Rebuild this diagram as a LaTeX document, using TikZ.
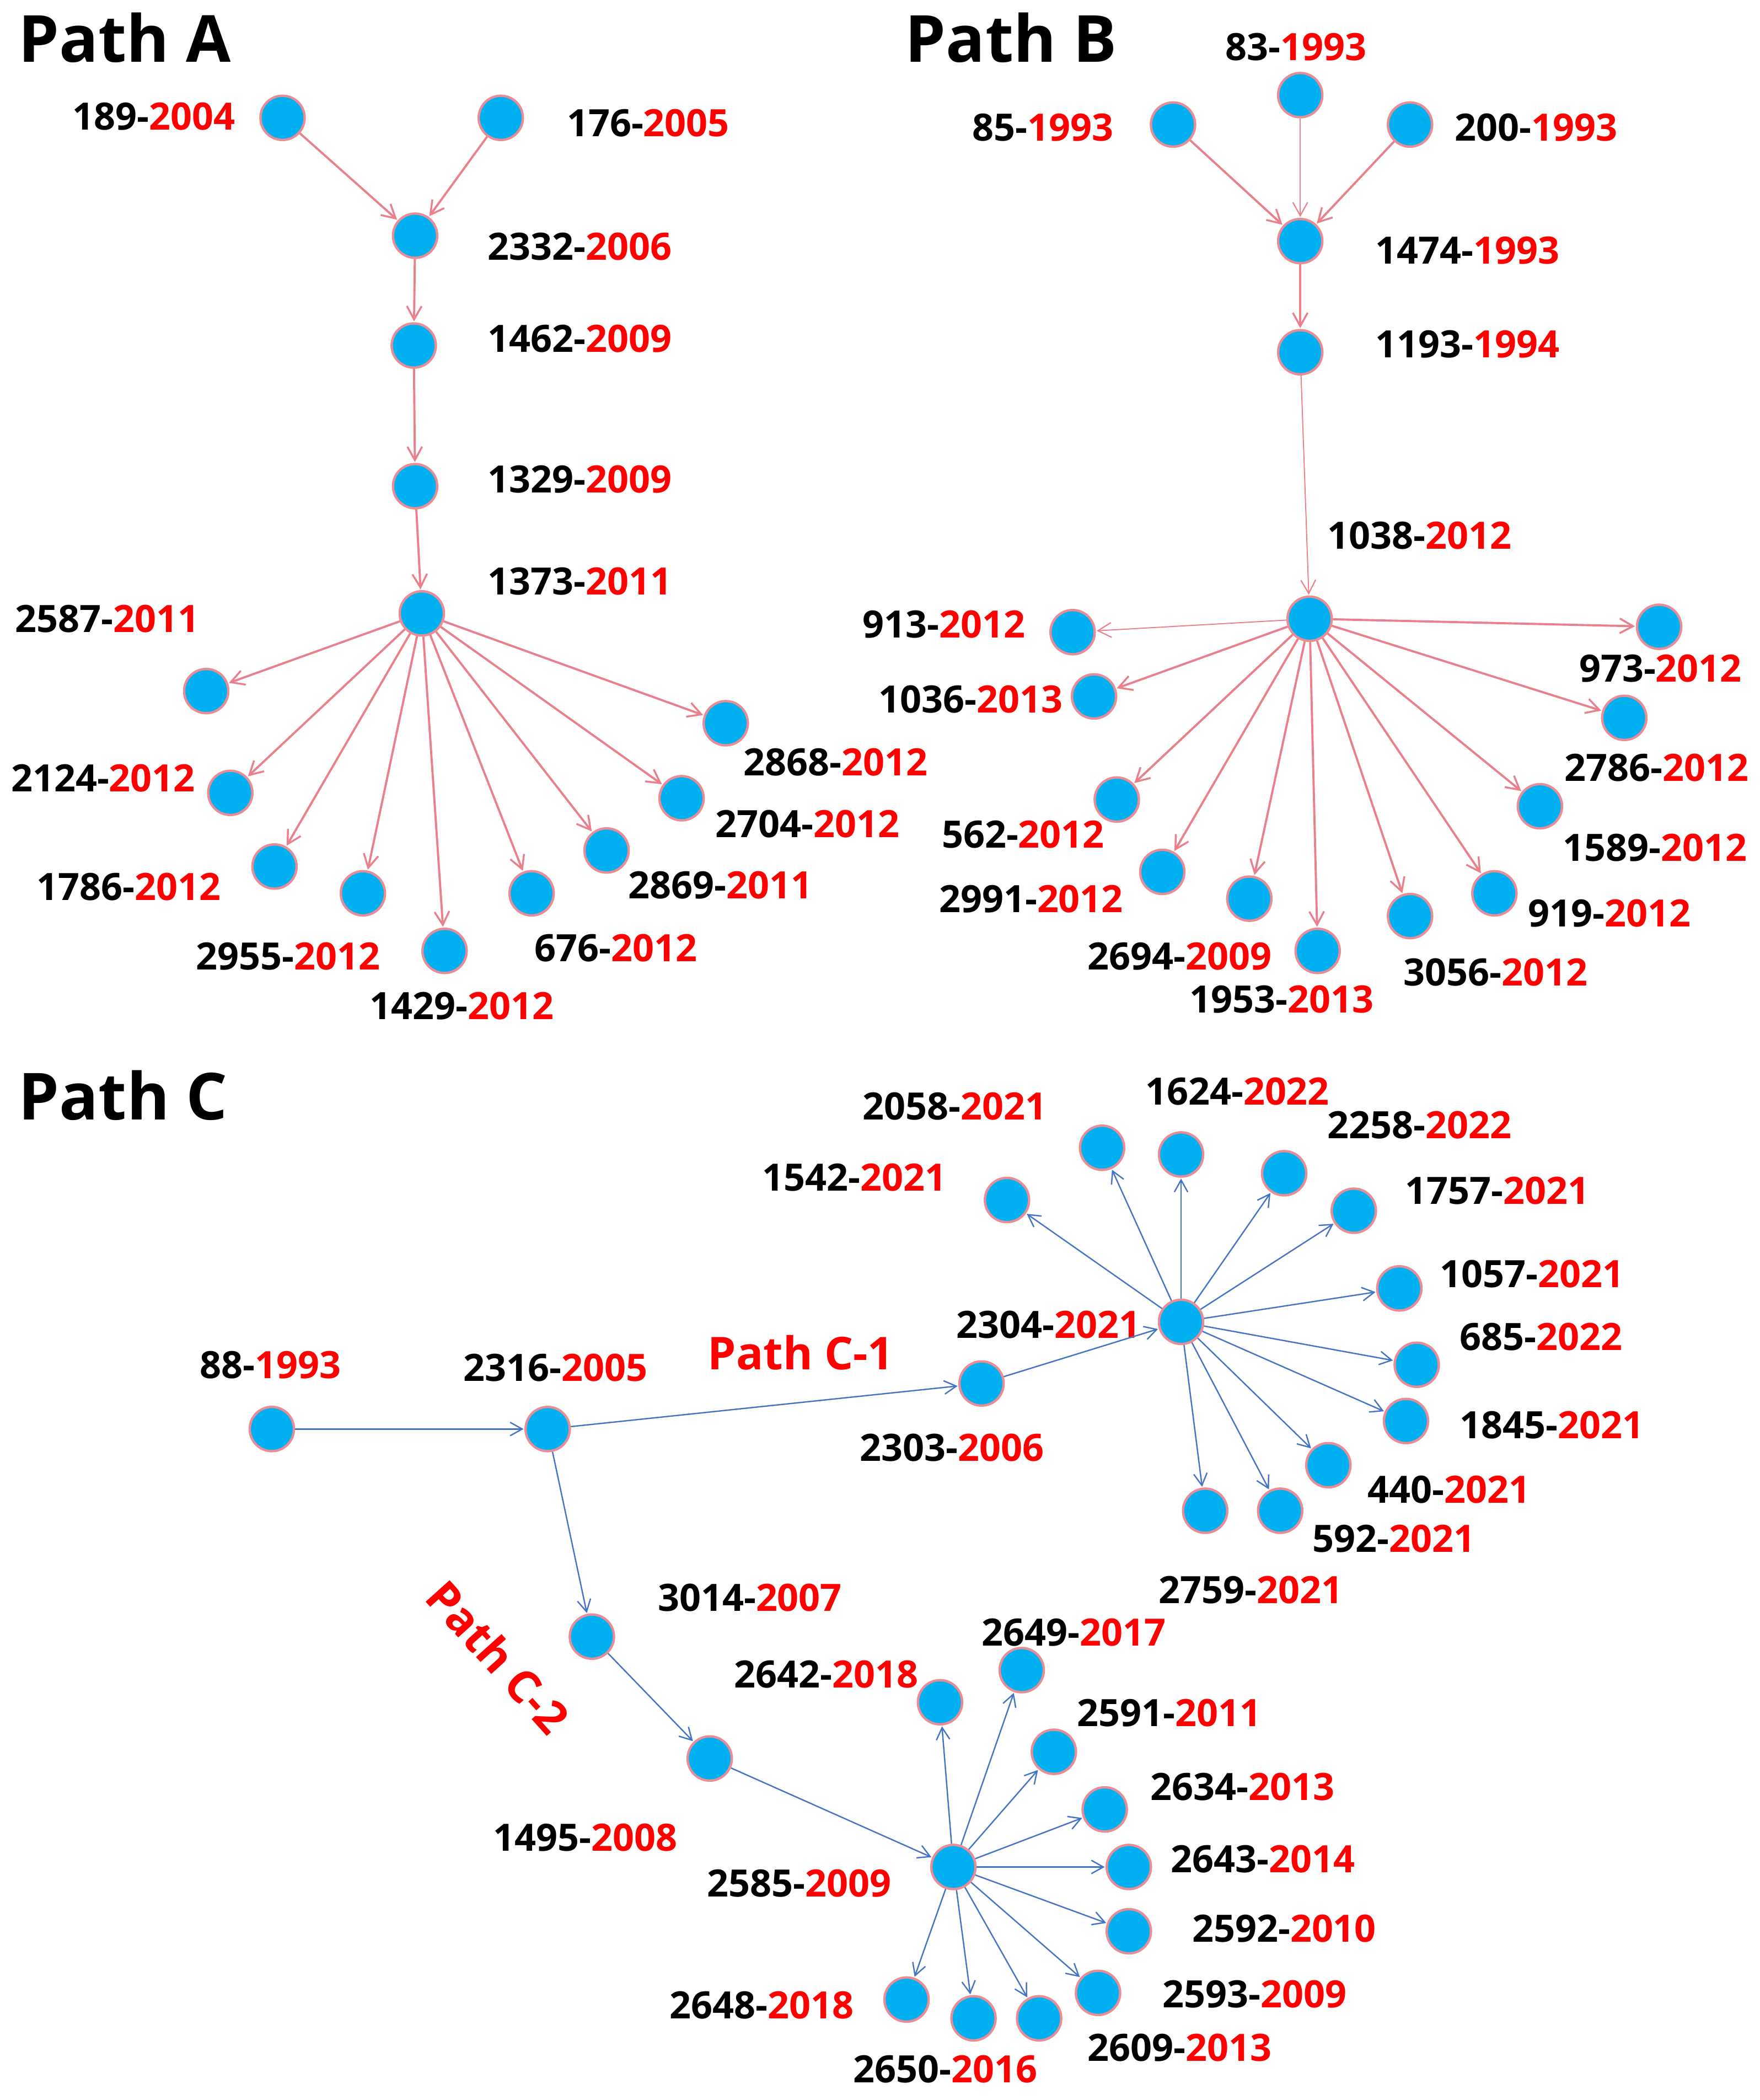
\documentclass[tikz,border=0pt]{standalone}
\usepackage{fontspec}
\setmainfont{Open Sans}
\usetikzlibrary{arrows.meta}
\definecolor{nodefill}{RGB}{0,176,240}
\definecolor{nodeedge}{RGB}{232,140,150}
\definecolor{pinkedge}{RGB}{234,128,140}
\definecolor{blueedge}{RGB}{68,114,196}
\definecolor{yearred}{RGB}{255,0,0}
\tikzset{
  pt/.style={circle,fill=nodefill,draw=nodeedge,line width=0.9mm,minimum size=16.5mm,inner sep=0pt},
  lbl/.style={font=\fontsize{40}{44}\selectfont\bfseries,text=black,inner sep=0pt},
  ttl/.style={font=\fontsize{69}{72}\selectfont\bfseries,text=black,inner sep=0pt},
  sub/.style={font=\fontsize{48}{52}\selectfont\bfseries,text=yearred,inner sep=0pt},
  pe/.style={draw=pinkedge,line width=0.8mm,-{Straight Barb[length=5mm,width=5.5mm,line width=0.7mm]},shorten >=0.3mm},
  pethin/.style={draw=pinkedge,line width=0.4mm,-{Straight Barb[length=5mm,width=5.5mm,line width=0.45mm]},shorten >=0.3mm},
  be/.style={draw=blueedge,line width=0.5mm,-{Straight Barb[length=4.5mm,width=5mm,line width=0.5mm]},shorten >=0.3mm}
}
\newcommand{\lab}[4]{\node[lbl] (#1) at (#2) {#3-\textcolor{yearred}{#4}};}
\begin{document}
\begin{tikzpicture}[x=0.5mm,y=-0.5mm]
\useasboundingbox[fill=white] (0,0) rectangle (1314,1568);
% ---------------- Path A ----------------
\node[ttl] (tA) at (93,28) {Path A};
\node[pt] (a189) at (211,88) {};
\node[pt] (a176) at (374,88) {};
\node[pt] (a2332) at (310,176) {};
\node[pt] (a1462) at (309,258) {};
\node[pt] (a1329) at (310,363) {};
\node[pt] (a1373) at (315,458) {};
\node[pt] (a2587) at (154,516) {};
\node[pt] (a2124) at (172,592) {};
\node[pt] (a1786) at (205,647) {};
\node[pt] (a2955) at (271,667) {};
\node[pt] (a1429) at (332,710) {};
\node[pt] (a676) at (397,667) {};
\node[pt] (a2869) at (453,635) {};
\node[pt] (a2704) at (509,596) {};
\node[pt] (a2868) at (542,540) {};
\lab{la189}{115,87}{189}{2004}
\lab{la176}{484,92}{176}{2005}
\lab{la2332}{433,184}{2332}{2006}
\lab{la1462}{433,253}{1462}{2009}
\lab{la1329}{433,358}{1329}{2009}
\lab{la1373}{433,434}{1373}{2011}
\lab{la2587}{80,462}{2587}{2011}
\lab{la2124}{77,581}{2124}{2012}
\lab{la1786}{96,662}{1786}{2012}
\lab{la2955}{215,714}{2955}{2012}
\lab{la1429}{345,751}{1429}{2012}
\lab{la676}{460,708}{676}{2012}
\lab{la2869}{538,661}{2869}{2011}
\lab{la2704}{603,615}{2704}{2012}
\lab{la2868}{624,569}{2868}{2012}
\draw[pe] (a189) -- (a2332);
\draw[pe] (a176) -- (a2332);
\draw[pe] (a2332) -- (a1462);
\draw[pe] (a1462) -- (a1329);
\draw[pe] (a1329) -- (a1373);
\foreach \c in {a2587,a2124,a1786,a2955,a1429,a676,a2869,a2704,a2868}
  \draw[pe] (a1373) -- (\c);
% ---------------- Path B ----------------
\node[ttl] (tB) at (755,28) {Path B};
\node[pt] (b85) at (876,93) {};
\node[pt] (b83) at (971,71) {};
\node[pt] (b200) at (1053,93) {};
\node[pt] (b1474) at (971,180) {};
\node[pt] (b1193) at (971,263) {};
\node[pt] (b1038) at (978,462) {};
\node[pt] (b913) at (801,472) {};
\node[pt] (b1036) at (817,520) {};
\node[pt] (b562) at (834,597) {};
\node[pt] (b2991) at (868,651) {};
\node[pt] (b2694) at (933,671) {};
\node[pt] (b1953) at (984,710) {};
\node[pt] (b3056) at (1053,684) {};
\node[pt] (b919) at (1116,667) {};
\node[pt] (b1589) at (1150,602) {};
\node[pt] (b2786) at (1213,536) {};
\node[pt] (b973) at (1239,468) {};
\lab{lb85}{779,95}{85}{1993}
\lab{lb83}{968,35}{83}{1993}
\lab{lb200}{1147,95}{200}{1993}
\lab{lb1474}{1096,187}{1474}{1993}
\lab{lb1193}{1096,257}{1193}{1994}
\lab{lb1038}{1060,400}{1038}{2012}
\lab{lb913}{705,466}{913}{2012}
\lab{lb1036}{725,522}{1036}{2013}
\lab{lb562}{764,623}{562}{2012}
\lab{lb2991}{770,671}{2991}{2012}
\lab{lb2694}{881,714}{2694}{2009}
\lab{lb1953}{957,746}{1953}{2013}
\lab{lb3056}{1117,726}{3056}{2012}
\lab{lb919}{1202,682}{919}{2012}
\lab{lb1589}{1236,633}{1589}{2012}
\lab{lb2786}{1237,573}{2786}{2012}
\lab{lb973}{1240,499}{973}{2012}
\draw[pe] (b85) -- (b1474);
\draw[pethin] (b83) -- (b1474);
\draw[pe] (b200) -- (b1474);
\draw[pe] (b1474) -- (b1193);
\draw[pethin] (b1193) -- (b1038);
\draw[pethin] (b1038) -- (b913);
\foreach \c in {b1036,b562,b2991,b2694,b1953,b3056,b919,b1589,b2786,b973}
  \draw[pe] (b1038) -- (\c);
% ---------------- Path C ----------------
\node[ttl] (tC) at (92,818) {Path C};
\node[sub] (tC1) at (598,1010) {Path C-1};
\node[sub,rotate=-48] (tC2) at (372,1237) {Path C-2};
\node[pt] (c88) at (203,1067) {};
\node[pt] (c2316) at (409,1067) {};
\node[pt] (c2303) at (733,1033) {};
\node[pt] (c2304) at (882,987) {};
\node[pt] (c1542) at (752,896) {};
\node[pt] (c2058) at (823,857) {};
\node[pt] (c1624) at (882,862) {};
\node[pt] (c2258) at (959,876) {};
\node[pt] (c1757) at (1011,904) {};
\node[pt] (c1057) at (1045,962) {};
\node[pt] (c685) at (1058,1019) {};
\node[pt] (c1845) at (1050,1061) {};
\node[pt] (c440) at (992,1094) {};
\node[pt] (c592) at (956,1128) {};
\node[pt] (c2759) at (900,1128) {};
\node[pt] (c3014) at (442,1222) {};
\node[pt] (c1495) at (530,1313) {};
\node[pt] (c2585) at (712,1394) {};
\node[pt] (c2642) at (702,1271) {};
\node[pt] (c2649) at (763,1247) {};
\node[pt] (c2591) at (787,1308) {};
\node[pt] (c2634) at (825,1351) {};
\node[pt] (c2643) at (843,1394) {};
\node[pt] (c2592) at (843,1442) {};
\node[pt] (c2593) at (820,1488) {};
\node[pt] (c2609) at (776,1507) {};
\node[pt] (c2650) at (727,1507) {};
\node[pt] (c2648) at (677,1493) {};
\lab{lc88}{202,1019}{88}{1993}
\lab{lc2316}{415,1021}{2316}{2005}
\lab{lc2303}{711,1081}{2303}{2006}
\lab{lc2304}{783,989}{2304}{2021}
\lab{lc1542}{638,879}{1542}{2021}
\lab{lc2058}{713,826}{2058}{2021}
\lab{lc1624}{924,815}{1624}{2022}
\lab{lc2258}{1060,840}{2258}{2022}
\lab{lc1757}{1118,889}{1757}{2021}
\lab{lc1057}{1144,951}{1057}{2021}
\lab{lc685}{1151,998}{685}{2022}
\lab{lc1845}{1159,1064}{1845}{2021}
\lab{lc440}{1082,1112}{440}{2021}
\lab{lc592}{1041,1149}{592}{2021}
\lab{lc2759}{934,1187}{2759}{2021}
\lab{lc3014}{560,1193}{3014}{2007}
\lab{lc1495}{437,1372}{1495}{2008}
\lab{lc2585}{597,1406}{2585}{2009}
\lab{lc2642}{617,1250}{2642}{2018}
\lab{lc2649}{802,1219}{2649}{2017}
\lab{lc2591}{873,1279}{2591}{2011}
\lab{lc2634}{928,1334}{2634}{2013}
\lab{lc2643}{943,1388}{2643}{2014}
\lab{lc2592}{959,1440}{2592}{2010}
\lab{lc2593}{937,1489}{2593}{2009}
\lab{lc2609}{881,1529}{2609}{2013}
\lab{lc2650}{706,1545}{2650}{2016}
\lab{lc2648}{569,1497}{2648}{2018}
\draw[be] (c88) -- (c2316);
\draw[be] (c2316) -- (c2303);
\draw[be] (c2303) -- (c2304);
\draw[be] (c2316) -- (c3014);
\draw[be] (c3014) -- (c1495);
\draw[be] (c1495) -- (c2585);
\foreach \c in {c1542,c2058,c1624,c2258,c1757,c1057,c685,c1845,c440,c592,c2759}
  \draw[be] (c2304) -- (\c);
\foreach \c in {c2642,c2649,c2591,c2634,c2643,c2592,c2593,c2609,c2650,c2648}
  \draw[be] (c2585) -- (\c);
\end{tikzpicture}
\end{document}
